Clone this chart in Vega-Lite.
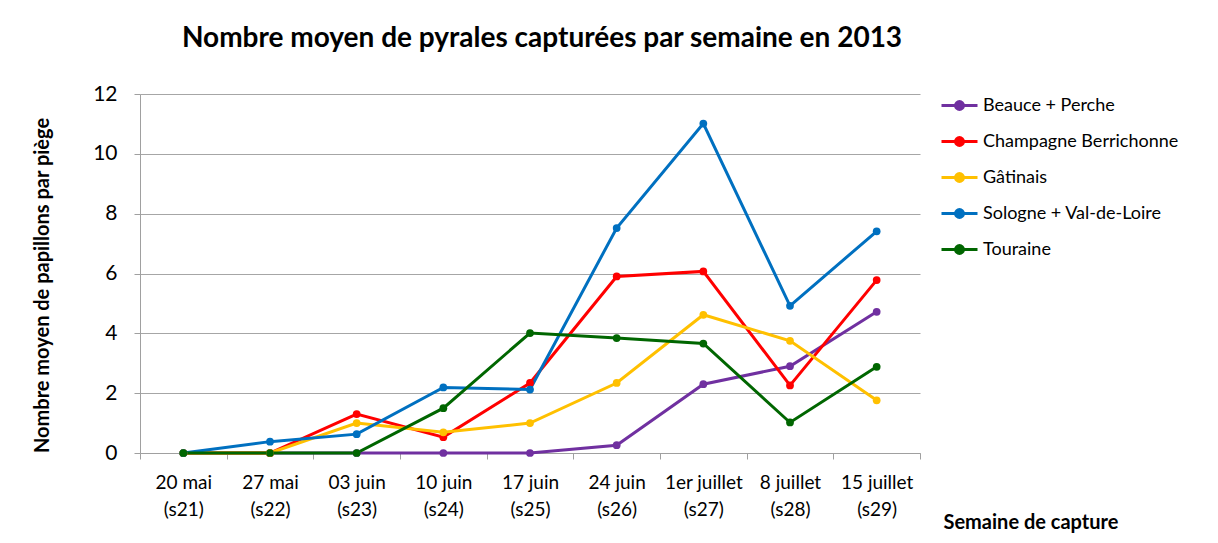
{
  "$schema": "https://vega.github.io/schema/vega-lite/v6.json",
  "autosize": "none",
  "width": 780,
  "height": 359,
  "padding": {"left": 140, "top": 94, "right": 298, "bottom": 90},
  "background": "white",
  "config": {"view": {"stroke": null}, "font": "Lato"},
  "title": {"text": "Nombre moyen de pyrales capturées par semaine en 2013", "font": "Lato", "fontSize": 28, "fontWeight": "bold", "color": "#000000", "anchor": "middle", "frame": "group", "dx": 12, "offset": 30},
  "data": {"values": [
    {"week": "20 mai|(s21)", "region": "Beauce + Perche", "value": 0},
    {"week": "27 mai|(s22)", "region": "Beauce + Perche", "value": 0},
    {"week": "03 juin|(s23)", "region": "Beauce + Perche", "value": 0},
    {"week": "10 juin|(s24)", "region": "Beauce + Perche", "value": 0},
    {"week": "17 juin|(s25)", "region": "Beauce + Perche", "value": 0},
    {"week": "24 juin|(s26)", "region": "Beauce + Perche", "value": 0.26},
    {"week": "1er juillet|(s27)", "region": "Beauce + Perche", "value": 2.3},
    {"week": "8 juillet|(s28)", "region": "Beauce + Perche", "value": 2.9},
    {"week": "15 juillet|(s29)", "region": "Beauce + Perche", "value": 4.72},
    {"week": "20 mai|(s21)", "region": "Champagne Berrichonne", "value": 0},
    {"week": "27 mai|(s22)", "region": "Champagne Berrichonne", "value": 0},
    {"week": "03 juin|(s23)", "region": "Champagne Berrichonne", "value": 1.3},
    {"week": "10 juin|(s24)", "region": "Champagne Berrichonne", "value": 0.53},
    {"week": "17 juin|(s25)", "region": "Champagne Berrichonne", "value": 2.34},
    {"week": "24 juin|(s26)", "region": "Champagne Berrichonne", "value": 5.9},
    {"week": "1er juillet|(s27)", "region": "Champagne Berrichonne", "value": 6.07},
    {"week": "8 juillet|(s28)", "region": "Champagne Berrichonne", "value": 2.26},
    {"week": "15 juillet|(s29)", "region": "Champagne Berrichonne", "value": 5.78},
    {"week": "20 mai|(s21)", "region": "Gâtinais", "value": 0},
    {"week": "27 mai|(s22)", "region": "Gâtinais", "value": 0},
    {"week": "03 juin|(s23)", "region": "Gâtinais", "value": 1.0},
    {"week": "10 juin|(s24)", "region": "Gâtinais", "value": 0.69},
    {"week": "17 juin|(s25)", "region": "Gâtinais", "value": 1.0},
    {"week": "24 juin|(s26)", "region": "Gâtinais", "value": 2.34},
    {"week": "1er juillet|(s27)", "region": "Gâtinais", "value": 4.62},
    {"week": "8 juillet|(s28)", "region": "Gâtinais", "value": 3.75},
    {"week": "15 juillet|(s29)", "region": "Gâtinais", "value": 1.76},
    {"week": "20 mai|(s21)", "region": "Sologne + Val-de-Loire", "value": 0},
    {"week": "27 mai|(s22)", "region": "Sologne + Val-de-Loire", "value": 0.38},
    {"week": "03 juin|(s23)", "region": "Sologne + Val-de-Loire", "value": 0.63},
    {"week": "10 juin|(s24)", "region": "Sologne + Val-de-Loire", "value": 2.19},
    {"week": "17 juin|(s25)", "region": "Sologne + Val-de-Loire", "value": 2.12},
    {"week": "24 juin|(s26)", "region": "Sologne + Val-de-Loire", "value": 7.52},
    {"week": "1er juillet|(s27)", "region": "Sologne + Val-de-Loire", "value": 11.01},
    {"week": "8 juillet|(s28)", "region": "Sologne + Val-de-Loire", "value": 4.92},
    {"week": "15 juillet|(s29)", "region": "Sologne + Val-de-Loire", "value": 7.41},
    {"week": "20 mai|(s21)", "region": "Touraine", "value": 0},
    {"week": "27 mai|(s22)", "region": "Touraine", "value": 0},
    {"week": "03 juin|(s23)", "region": "Touraine", "value": 0},
    {"week": "10 juin|(s24)", "region": "Touraine", "value": 1.5},
    {"week": "17 juin|(s25)", "region": "Touraine", "value": 4.01},
    {"week": "24 juin|(s26)", "region": "Touraine", "value": 3.84},
    {"week": "1er juillet|(s27)", "region": "Touraine", "value": 3.66},
    {"week": "8 juillet|(s28)", "region": "Touraine", "value": 1.02},
    {"week": "15 juillet|(s29)", "region": "Touraine", "value": 2.88}
  ]},
  "mark": {"type": "line", "strokeWidth": 3, "point": {"filled": true, "size": 60, "opacity": 1}},
  "encoding": {
    "x": {
      "field": "week", "type": "nominal",
      "sort": ["20 mai|(s21)", "27 mai|(s22)", "03 juin|(s23)", "10 juin|(s24)", "17 juin|(s25)", "24 juin|(s26)", "1er juillet|(s27)", "8 juillet|(s28)", "15 juillet|(s29)"],
      "scale": {"paddingInner": 0, "paddingOuter": 0},
      "axis": {
        "labelExpr": "isValid(datum.value) ? split(datum.value, '|') : ''",
        "labelAngle": 0, "labelFont": "Lato", "labelFontSize": 19, "labelColor": "#000000",
        "labelLineHeight": 27, "labelPadding": 14, "labelBaseline": "top", "labelLimit": 200,
        "tickBand": "extent", "tickSize": 6, "tickColor": "#A0A0A0", "domainColor": "#A0A0A0", "domainWidth": 1,
        "grid": false,
        "title": "Semaine de capture", "titleFont": "Lato", "titleFontSize": 20, "titleFontWeight": "bold", "titleColor": "#000000",
        "titleAnchor": "start", "titleAlign": "left", "titleBaseline": "middle", "titleX": 803, "titleY": 69
      }
    },
    "y": {
      "field": "value", "type": "quantitative",
      "scale": {"domain": [0, 12], "nice": false},
      "axis": {
        "values": [0, 2, 4, 6, 8, 10, 12],
        "labelFont": "Lato", "labelFontSize": 21, "labelColor": "#000000", "labelPadding": 17,
        "tickSize": 6, "tickColor": "#A0A0A0", "domainColor": "#A0A0A0",
        "grid": true, "gridColor": "#A6A6A6", "gridWidth": 1,
        "title": "Nombre moyen de papillons par piège", "titleFont": "Lato", "titleFontSize": 20, "titleFontWeight": "bold", "titleColor": "#000000",
        "titlePadding": 40, "titleY": 191
      }
    },
    "color": {
      "field": "region", "type": "nominal",
      "scale": {"domain": ["Beauce + Perche", "Champagne Berrichonne", "Gâtinais", "Sologne + Val-de-Loire", "Touraine"], "range": ["#7030A0", "#FF0000", "#FFC000", "#0070C0", "#006600"]},
      "legend": {
        "orient": "none", "legendX": 800, "legendY": -8, "title": null,
        "symbolType": "M-1,0L1,0M0.22,0A0.22,0.22,0,1,1,-0.22,0A0.22,0.22,0,1,1,0.22,0Z",
        "symbolSize": 1296, "symbolStrokeWidth": 3,
        "labelFont": "Lato", "labelFontSize": 18, "labelColor": "#000000", "labelOffset": 4, "labelLimit": 300,
        "rowPadding": 6,
        "encode": {"symbols": {"update": {"fill": {"scale": "color", "field": "value"}, "opacity": {"value": 1}}}}
      }
    }
  }
}
